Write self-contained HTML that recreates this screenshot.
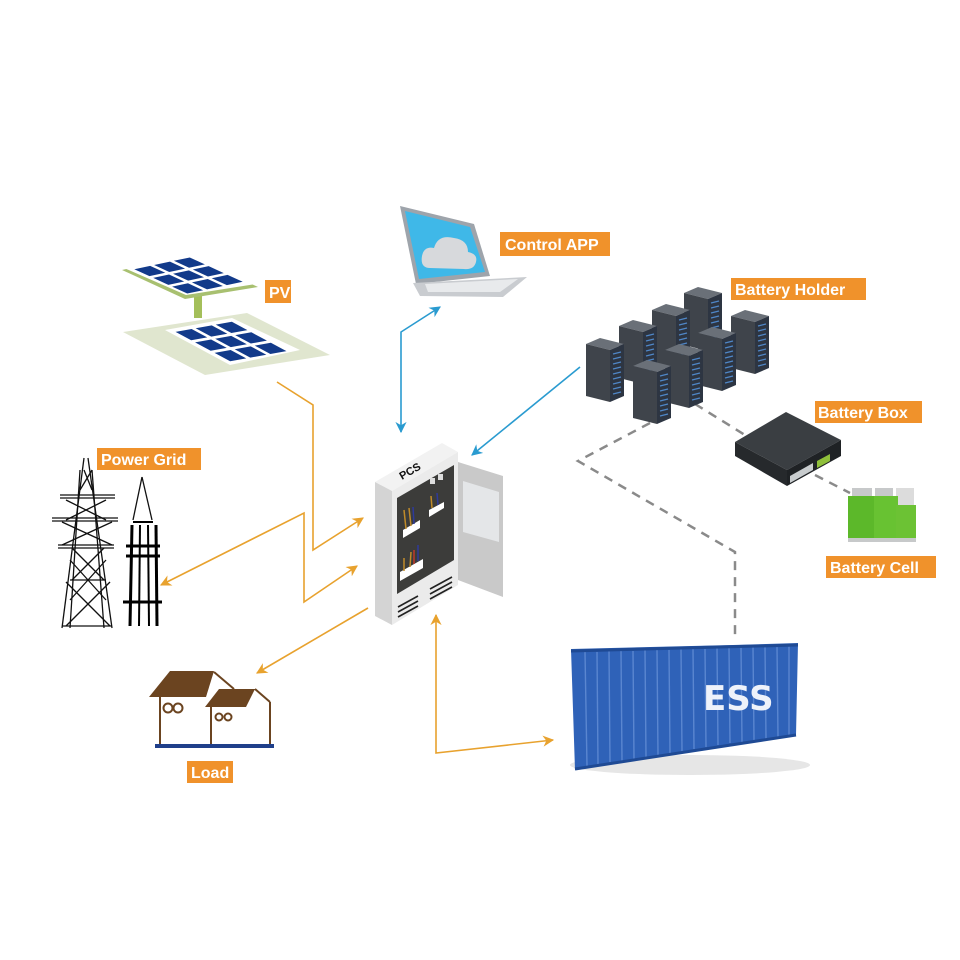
<!DOCTYPE html>
<html><head><meta charset="utf-8"><style>
html,body{margin:0;padding:0;background:#fff}
svg{display:block}
.lbl{font-family:"Liberation Sans",sans-serif;font-weight:bold;font-size:16px;fill:#fff}
</style></head><body>
<svg width="960" height="960" viewBox="0 0 960 960" xmlns="http://www.w3.org/2000/svg">
<defs>
<marker id="ao" viewBox="0 0 10 10" refX="9" refY="5" markerWidth="7" markerHeight="7" orient="auto-start-reverse"><path d="M0,0 L10,5 L0,10 L3,5z" fill="#E8A22E"/></marker>
<marker id="ab" viewBox="0 0 10 10" refX="9" refY="5" markerWidth="7" markerHeight="7" orient="auto-start-reverse"><path d="M0,0 L10,5 L0,10 L3,5z" fill="#2A9BD0"/></marker>
<g id="rack">
<polygon points="0,8 14,2 38,8 24,14" fill="#6a7078"/>
<polygon points="0,8 24,14 24,66 0,60" fill="#3f444b"/>
<polygon points="24,14 38,8 38,60 24,66" fill="#2d3542"/>
<g stroke="#4f86c6" stroke-width="1.3">
<line x1="27" y1="18" x2="35" y2="16"/><line x1="27" y1="23" x2="35" y2="21"/><line x1="27" y1="28" x2="35" y2="26"/><line x1="27" y1="33" x2="35" y2="31"/><line x1="27" y1="38" x2="35" y2="36"/><line x1="27" y1="43" x2="35" y2="41"/><line x1="27" y1="48" x2="35" y2="46"/><line x1="27" y1="53" x2="35" y2="51"/><line x1="27" y1="58" x2="35" y2="56"/>
</g>
</g>
</defs>

<!-- connectors -->
<g fill="none" stroke="#E8A22E" stroke-width="1.6">
<polyline points="277,382 313,405 313,550 363,518" marker-end="url(#ao)"/>
<polyline points="161,585 304,513 304,602 357,566" marker-start="url(#ao)" marker-end="url(#ao)"/>
<line x1="368" y1="608" x2="257" y2="673" marker-end="url(#ao)"/>
<polyline points="436,615 436,753 553,740" marker-start="url(#ao)" marker-end="url(#ao)"/>
</g>
<g fill="none" stroke="#2A9BD0" stroke-width="1.6">
<polyline points="401,432 401,332 440,307" marker-start="url(#ab)" marker-end="url(#ab)"/>
<line x1="580" y1="367" x2="472" y2="455" marker-end="url(#ab)"/>
</g>
<g fill="none" stroke="#8a8a8a" stroke-width="2.5" stroke-dasharray="9,7">
<polyline points="650,423 578,461 735,552 735,637"/>
<line x1="695" y1="404" x2="745" y2="435"/>
<line x1="815" y1="475" x2="850" y2="493"/>
</g>

<!-- PV -->
<polygon points="123,332 247,313 330,355 205,375" fill="#e0e6cf"/>
<polygon points="165,330 232,318 300,350 230,365" fill="#fff"/>
<g transform="matrix(65,35,67,-12,165,330)" fill="#123a8a">
<rect x="0.08" y="0.08" width="0.24" height="0.24"/><rect x="0.38" y="0.08" width="0.24" height="0.24"/><rect x="0.68" y="0.08" width="0.24" height="0.24"/>
<rect x="0.08" y="0.38" width="0.24" height="0.24"/><rect x="0.38" y="0.38" width="0.24" height="0.24"/><rect x="0.68" y="0.38" width="0.24" height="0.24"/>
<rect x="0.08" y="0.68" width="0.24" height="0.24"/><rect x="0.38" y="0.68" width="0.24" height="0.24"/><rect x="0.68" y="0.68" width="0.24" height="0.24"/>
</g>
<rect x="194" y="296" width="8" height="22" fill="#a4bf5a"/>
<polygon points="122,270 190,255 258,287 185,299" fill="#a8c070"/>
<polygon points="124,268 190,254 256,284 186,295" fill="#fff"/>
<g transform="matrix(63,29,66,-14,124,268)" fill="#123a8a">
<rect x="0.08" y="0.08" width="0.24" height="0.24"/><rect x="0.38" y="0.08" width="0.24" height="0.24"/><rect x="0.68" y="0.08" width="0.24" height="0.24"/>
<rect x="0.08" y="0.38" width="0.24" height="0.24"/><rect x="0.38" y="0.38" width="0.24" height="0.24"/><rect x="0.68" y="0.38" width="0.24" height="0.24"/>
<rect x="0.08" y="0.68" width="0.24" height="0.24"/><rect x="0.38" y="0.68" width="0.24" height="0.24"/><rect x="0.68" y="0.68" width="0.24" height="0.24"/>
</g>
<rect x="265" y="280" width="26" height="23" fill="#F0922B"/><text class="lbl" x="269" y="298">PV</text>

<!-- Laptop -->
<polygon points="400,206 474,224 490,276 416,284" fill="#9ea4ab"/>
<polygon points="405,211 470,227 485,272 419,279" fill="#3fb8e8"/>
<path d="M430,268 q-10,0 -8,-12 q2,-10 12,-8 q4,-14 20,-10 q14,2 14,14 q10,2 8,10 q-2,8 -12,7 z" fill="#d7d9dc"/>
<polygon points="413,283 527,277 503,297 420,296" fill="#c9ccd0"/>
<polygon points="425,284 518,279 500,292 428,292" fill="#e8eaec"/>
<rect x="500" y="232" width="110" height="24" fill="#F0922B"/><text class="lbl" x="505" y="250">Control APP</text>

<!-- Battery holder racks -->
<use href="#rack" x="684" y="285"/>
<use href="#rack" x="731" y="308"/>
<use href="#rack" x="652" y="302"/>
<use href="#rack" x="619" y="318"/>
<use href="#rack" x="698" y="325"/>
<use href="#rack" x="586" y="336"/>
<use href="#rack" x="665" y="342"/>
<use href="#rack" x="633" y="358"/>
<rect x="731" y="278" width="135" height="22" fill="#F0922B"/><text class="lbl" x="735" y="295">Battery Holder</text>

<!-- Battery box -->
<polygon points="735,442 786,412 841,440 787,470" fill="#3a3e42"/>
<polygon points="735,442 787,470 787,486 735,456" fill="#26292c"/>
<polygon points="787,470 841,440 841,456 787,486" fill="#1f2225"/>
<polygon points="790,476 813,463 813,470 790,483" fill="#c8ccce"/>
<polygon points="817,461 830,454 830,461 817,468" fill="#8fbf3a"/>
<rect x="815" y="401" width="107" height="22" fill="#F0922B"/><text class="lbl" x="818" y="418">Battery Box</text>

<!-- Battery cells -->
<g>
<rect x="852" y="488" width="20" height="8" fill="#c7c9ca"/><rect x="875" y="488" width="18" height="8" fill="#c7c9ca"/><rect x="896" y="488" width="18" height="20" fill="#dcdcdc"/>
<rect x="848" y="496" width="28" height="46" fill="#5cb82a"/>
<rect x="874" y="496" width="24" height="46" fill="#68c232"/>
<rect x="896" y="505" width="20" height="37" fill="#6cc234"/>
<rect x="848" y="538" width="68" height="4" fill="#c7c9ca"/>
</g>
<rect x="826" y="556" width="110" height="22" fill="#F0922B"/><text class="lbl" x="830" y="573">Battery Cell</text>

<!-- PCS -->
<polygon points="375,482 442,443 458,452 392,491" fill="#f2f2f2"/>
<polygon points="375,482 392,491 392,625 375,616" fill="#d4d4d4"/>
<polygon points="392,491 458,452 458,585 392,625" fill="#ebebeb"/>
<polygon points="397,498 454,465 454,560 397,594" fill="#3c3c3a"/>
<polygon points="403,530 420,520 420,528 403,538" fill="#fff"/>
<polygon points="429,510 444,502 444,508 429,517" fill="#fff"/>
<polygon points="400,572 423,559 423,568 400,581" fill="#fff"/>
<g stroke="#c08b2a" stroke-width="1.5"><line x1="406" y1="529" x2="404" y2="510"/><line x1="411" y1="526" x2="409" y2="508"/><line x1="432" y1="508" x2="431" y2="496"/><line x1="404" y1="571" x2="404" y2="558"/><line x1="410" y1="567" x2="411" y2="552"/></g>
<g stroke="#2e3a9a" stroke-width="1.5"><line x1="414" y1="524" x2="413" y2="507"/><line x1="438" y1="505" x2="437" y2="493"/><line x1="418" y1="561" x2="418" y2="545"/></g>
<g stroke="#c0392b" stroke-width="1.5"><line x1="414" y1="564" x2="414" y2="550"/></g>
<rect x="430" y="478" width="5" height="6" fill="#ddd"/><rect x="438" y="474" width="5" height="6" fill="#ddd"/>
<g stroke="#222" stroke-width="1.6"><line x1="398" y1="607" x2="418" y2="596"/><line x1="398" y1="612" x2="418" y2="601"/><line x1="398" y1="617" x2="418" y2="606"/><line x1="430" y1="589" x2="452" y2="577"/><line x1="430" y1="594" x2="452" y2="582"/><line x1="430" y1="599" x2="452" y2="587"/></g>
<text x="0" y="0" transform="translate(402,480) rotate(-30)" font-family="Liberation Sans,sans-serif" font-size="11" font-weight="bold" fill="#111">PCS</text>
<polygon points="458,462 503,476 503,597 458,580" fill="#c9c9c9"/>
<polygon points="463,481 499,492 499,542 463,532" fill="#e4e6e8"/>

<!-- Towers -->
<g stroke="#111" stroke-width="1.3" fill="none">
<line x1="84" y1="458" x2="62" y2="628"/><line x1="88" y1="458" x2="112" y2="628"/>
<line x1="80" y1="470" x2="70" y2="628"/><line x1="92" y1="470" x2="104" y2="628"/>
<line x1="60" y1="495" x2="115" y2="495"/><line x1="52" y1="518" x2="118" y2="518"/><line x1="58" y1="545" x2="114" y2="545"/>
<line x1="60" y1="498" x2="115" y2="498"/><line x1="52" y1="521" x2="118" y2="521"/><line x1="58" y1="548" x2="114" y2="548"/>
<line x1="66" y1="500" x2="106" y2="520"/><line x1="66" y1="520" x2="106" y2="500"/>
<line x1="62" y1="522" x2="112" y2="545"/><line x1="62" y1="545" x2="112" y2="522"/>
<line x1="72" y1="548" x2="104" y2="580"/><line x1="72" y1="580" x2="104" y2="548"/>
<line x1="66" y1="582" x2="110" y2="626"/><line x1="66" y1="626" x2="110" y2="582"/>
<line x1="70" y1="580" x2="106" y2="580"/><line x1="62" y1="626" x2="112" y2="626"/>
<line x1="84" y1="470" x2="92" y2="490"/><line x1="92" y1="470" x2="80" y2="490"/>
<line x1="70" y1="600" x2="106" y2="560"/><line x1="70" y1="560" x2="106" y2="600"/>
<line x1="142" y1="477" x2="133" y2="520"/><line x1="142" y1="477" x2="152" y2="520"/>
</g>
<g stroke="#000" fill="none">
<line x1="132" y1="525" x2="130" y2="626" stroke-width="3"/><line x1="140" y1="525" x2="139" y2="626" stroke-width="2"/><line x1="148" y1="525" x2="149" y2="626" stroke-width="2"/><line x1="156" y1="525" x2="157" y2="626" stroke-width="3"/>
<line x1="126" y1="546" x2="160" y2="546" stroke-width="3"/><line x1="126" y1="556" x2="160" y2="556" stroke-width="3"/><line x1="123" y1="602" x2="162" y2="602" stroke-width="3"/>
<line x1="133" y1="522" x2="153" y2="522" stroke-width="2"/>
</g>
<rect x="97" y="448" width="104" height="22" fill="#F0922B"/><text class="lbl" x="101" y="465">Power Grid</text>

<!-- Houses -->
<g stroke="#6b4420" stroke-width="2" fill="none">
<line x1="160" y1="697" x2="160" y2="745"/><line x1="211" y1="707" x2="211" y2="745"/><line x1="270" y1="702" x2="270" y2="745"/>
<line x1="214" y1="672" x2="234" y2="689"/><line x1="255" y1="689" x2="270" y2="702"/>
<circle cx="168" cy="708" r="4.5"/><circle cx="178" cy="708" r="4.5"/><circle cx="219" cy="717" r="3.5"/><circle cx="228" cy="717" r="3.5"/>
</g>
<polygon points="149,697 170,671 214,671 206,697" fill="#6b4420"/>
<polygon points="205,707 219,689 255,689 246,707" fill="#6b4420"/>
<line x1="155" y1="746" x2="274" y2="746" stroke="#1f3f8a" stroke-width="4"/>
<rect x="187" y="761" width="46" height="22" fill="#F0922B"/><text class="lbl" x="191" y="778">Load</text>

<!-- Container -->
<ellipse cx="690" cy="765" rx="120" ry="10" fill="#e6e6e6"/>
<polygon points="571,649 733,645 798,643 796,735 575,770" fill="#2f62b8"/>
<g stroke="#5a86d0" stroke-width="1.4">
<line x1="585" y1="652" x2="587" y2="766"/><line x1="597" y1="652" x2="598" y2="764"/><line x1="609" y1="651" x2="610" y2="762"/><line x1="621" y1="651" x2="622" y2="761"/><line x1="633" y1="651" x2="634" y2="759"/><line x1="645" y1="650" x2="646" y2="757"/><line x1="657" y1="650" x2="658" y2="755"/><line x1="669" y1="650" x2="670" y2="753"/><line x1="681" y1="649" x2="682" y2="751"/><line x1="693" y1="649" x2="694" y2="749"/><line x1="705" y1="649" x2="706" y2="747"/><line x1="717" y1="648" x2="718" y2="745"/><line x1="729" y1="648" x2="730" y2="743"/><line x1="741" y1="647" x2="742" y2="742"/><line x1="753" y1="647" x2="754" y2="740"/><line x1="765" y1="646" x2="766" y2="739"/><line x1="777" y1="646" x2="778" y2="737"/><line x1="789" y1="645" x2="789" y2="736"/>
</g>
<line x1="571" y1="651" x2="798" y2="645" stroke="#1f4a94" stroke-width="3"/>
<line x1="575" y1="769" x2="796" y2="735" stroke="#1f4a94" stroke-width="3"/>
<text x="703" y="710" font-family="DejaVu Sans,sans-serif" font-weight="bold" font-size="34" fill="#eef2fa">ESS</text>
</svg>
</body></html>
